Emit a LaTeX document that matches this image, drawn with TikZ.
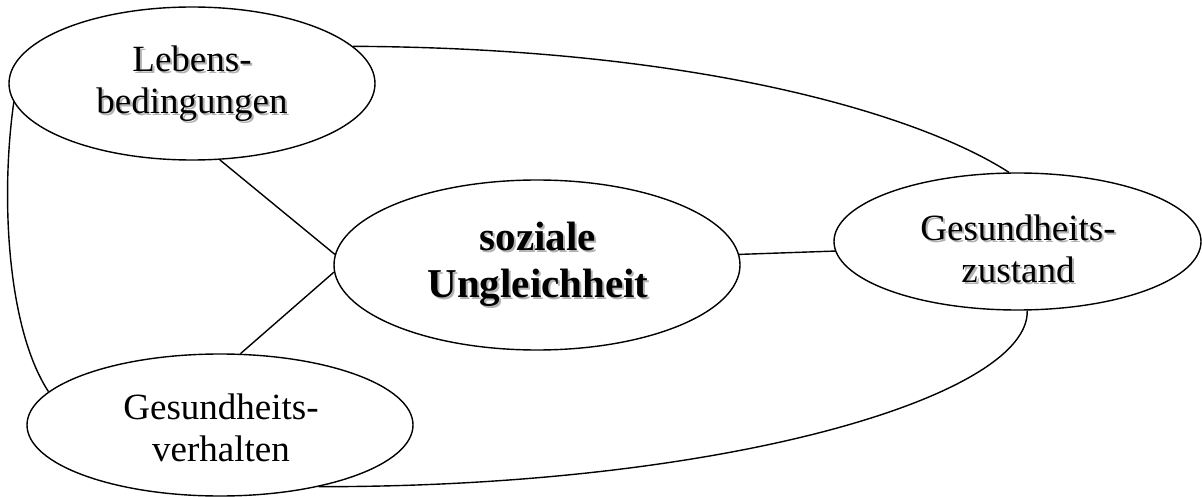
\documentclass[tikz,border=0pt]{standalone}
\usepackage{fontspec}
\setmainfont{Liberation Serif}
\usetikzlibrary{shapes.geometric}
\begin{document}
\begin{tikzpicture}[x=1pt,y=-1pt,
  ell/.style={draw=black,line width=1.4pt,shape=ellipse,inner sep=0pt},
  txt/.style={align=center,inner sep=0pt,font=\fontsize{37}{42}\selectfont},
  btxt/.style={align=center,inner sep=0pt,font=\fontsize{41}{47}\selectfont\bfseries},
  shd/.style={text=black!30},
  con/.style={draw=black,line width=1.4pt}]
\useasboundingbox (0,0) rectangle (1202,497);
% ellipses
\node[ell,minimum width=366pt,minimum height=153pt] (leb) at (192,83.5) {};
\node[ell,minimum width=406pt,minimum height=170pt] (soz) at (537,265) {};
\node[ell,minimum width=367pt,minimum height=137pt] (zus) at (1017.5,241.5) {};
\node[ell,minimum width=386pt,minimum height=142pt] (ver) at (220,425) {};
% texts
\node[txt,shd] (lebs) at (194,86) {Lebens-\\bedingungen};
\node[txt] (lebt) at (192,84) {Lebens-\\bedingungen};
\node[btxt,shd] (sozs) at (540,266) {soziale\\Ungleichheit};
\node[btxt] (sozt) at (538,264) {soziale\\Ungleichheit};
\node[txt,shd] (zuss) at (1020,251) {Gesundheits-\\zustand};
\node[txt] (zust) at (1018,249) {Gesundheits-\\zustand};
\node[txt] (vert) at (221,428) {Gesundheits-\\verhalten};
% connectors
\draw[con] (leb.-70) -- (soz.177.7);
\draw[con] (soz.182.5) -- (ver.74.5);
\draw[con] (soz.3.4) -- (zus.183.5);
\draw[con] (leb.13.3) .. controls (700,48) and (920,115) .. (zus.97.5);
\draw[con] (leb.186.2) .. controls (0,200) and (8,330) .. (ver.169.4);
\draw[con] (zus.-82) .. controls (1030,395) and (730,487) .. (ver.-32);
\end{tikzpicture}
\end{document}
